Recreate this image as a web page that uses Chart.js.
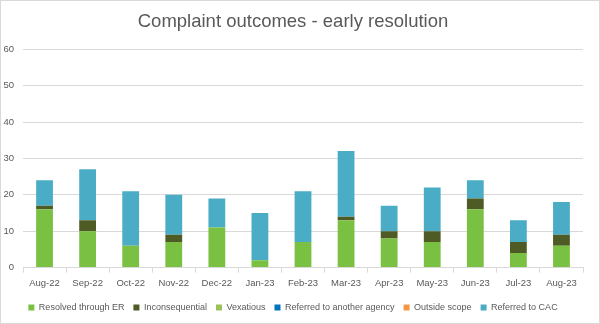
<!DOCTYPE html>
<html><head><meta charset="utf-8">
<script src="https://cdn.jsdelivr.net/npm/chart.js@4"></script>
<style>html,body{margin:0;padding:0;background:#fff}#wrap{width:600px;height:324px;position:relative}</style>
</head><body><div id="wrap"><canvas id="c" width="600" height="324"></canvas></div>
<script>
const categories = ["Aug-22","Sep-22","Oct-22","Nov-22","Dec-22","Jan-23","Feb-23","Mar-23","Apr-23","May-23","Jun-23","Jul-23","Aug-23"];
const resolvedER = [16,10,6,7,11,2,7,13,8,7,16,4,6];
const inconsequential = [1,3,0,2,0,0,0,1,2,3,3,3,3];
const vexatious = [0,0,0,0,0,0,0,0,0,0,0,0,0];
const referredAgency = [0,0,0,0,0,0,0,0,0,0,0,0,0];
const outsideScope = [0,0,0,0,0,0,0,0,0,0,0,0,0];
const referredCAC = [7,14,15,11,8,13,14,18,7,12,5,6,9];
const yTicks = [0,10,20,30,40,50,60];

const borderPlugin = {
  id:'frame',
  afterDraw(chart){
    const c = chart.ctx;
    c.save(); c.strokeStyle='#d9d9d9'; c.lineWidth=1;
    c.strokeRect(0.5,0.5,chart.width-1,chart.height-1);
    c.restore();
  }
};
const txt = '#595959';
const font = 'Liberation Sans';
function ds(label, data, color){
  return {label, data, backgroundColor: color, borderWidth: 0, barPercentage: 0.78, categoryPercentage: 0.5};
}
new Chart(document.getElementById('c'), {
  type: 'bar',
  data: {
    labels: categories,
    datasets: [
      ds('Resolved through ER', resolvedER, '#7AC143'),
      ds('Inconsequential', inconsequential, '#4E5B24'),
      ds('Vexatious', vexatious, '#9BC15A'),
      ds('Referred to another agency', referredAgency, '#0070C0'),
      ds('Outside scope', outsideScope, '#F79646'),
      ds('Referred to CAC', referredCAC, '#4BACC6')
    ]
  },
  options: {
    responsive: false,
    animation: false,
    layout: {padding: {left: 3, right: 17, top: 4, bottom: 2}},
    plugins: {
      title: {display: true, text: 'Complaint outcomes - early resolution', color: txt,
        font: {family: font, size: 18.5, weight: 'normal'}, padding: {top: 7, bottom: 16}},
      legend: {position: 'bottom', labels: {color: txt, font: {family: font, size: 9},
        boxWidth: 6, boxHeight: 6, padding: 9}},
      tooltip: {enabled: false}
    },
    scales: {
      x: {stacked: true,
        grid: {display: true, drawOnChartArea: false, offset: true, tickLength: 5, color: '#d9d9d9'},
        border: {color: '#d9d9d9'},
        ticks: {color: txt, font: {family: font, size: 9.5}, maxRotation: 0, autoSkip: false, padding: 5}},
      y: {stacked: true, min: 0, max: 60,
        afterBuildTicks: (a) => { a.ticks = yTicks.map(v => ({value: v})); },
        afterFit: (a) => { a.width = 20; },
        grid: {color: '#d9d9d9', drawTicks: false},
        border: {display: false},
        ticks: {color: txt, font: {family: font, size: 9.5}, padding: 9}}
    }
  },
  plugins: [borderPlugin]
});
</script></body></html>
